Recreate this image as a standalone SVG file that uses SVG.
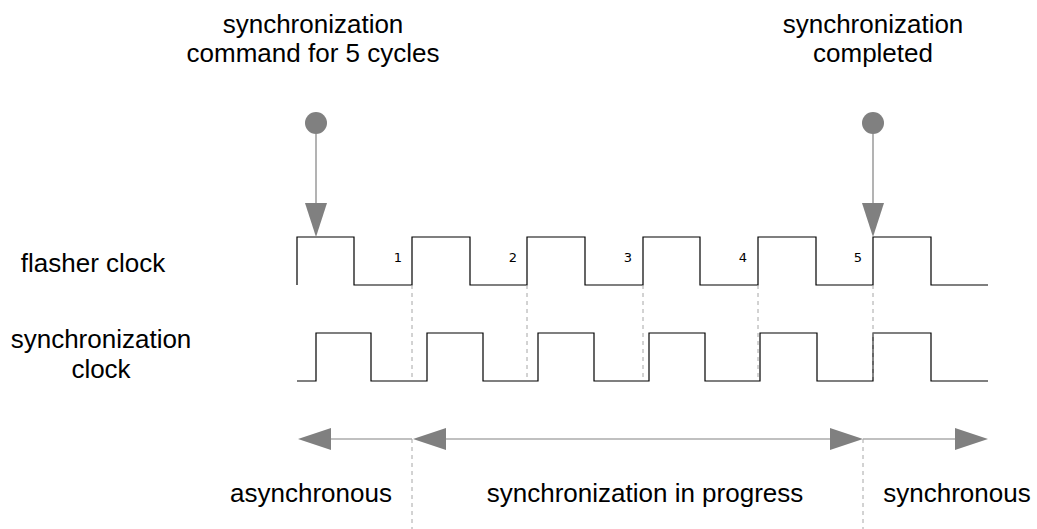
<svg xmlns="http://www.w3.org/2000/svg" width="1037" height="529" viewBox="0 0 1037 529">
<style>
.t{font-family:"Liberation Sans",Arial,sans-serif;font-size:26px;fill:#000;text-anchor:middle}
.n{font-family:"DejaVu Sans",sans-serif;font-size:13px;fill:#000;text-anchor:middle}
.wave{fill:none;stroke:#000;stroke-width:1.2}
.dash{fill:none;stroke:#a6a6a6;stroke-width:1;stroke-dasharray:4 4}
.ptr{fill:none;stroke:#808080;stroke-width:1.2}
.span{fill:none;stroke:#ababab;stroke-width:1.5}
.head{fill:#808080;stroke:none}
</style>
<rect width="1037" height="529" fill="#fff"/>
<g id="label-command">
<text class="t" x="313" y="33">synchronization</text>
<text class="t" x="313" y="62">command for 5 cycles</text>
</g>
<g id="label-completed">
<text class="t" x="873" y="33">synchronization</text>
<text class="t" x="873" y="62">completed</text>
</g>
<g id="label-flasher"><text class="t" x="93" y="272">flasher clock</text></g>
<g id="label-sync-clock">
<text class="t" x="101" y="348">synchronization</text>
<text class="t" x="101" y="378">clock</text>
</g>
<g id="flasher-clock">
<path class="wave" d="M297,285 V237 H354 V285 H412 V237 H470 V285 H527 V237 H585 V285 H643 V237 H700 V285 H758 V237 H816 V285 H873 V237 H931 V285 H988"/>
<text class="n" x="398" y="262">1</text>
<text class="n" x="513" y="262">2</text>
<text class="n" x="628" y="262">3</text>
<text class="n" x="743" y="262">4</text>
<text class="n" x="858" y="262">5</text>
</g>
<g id="sync-clock">
<path class="wave" d="M297,381 H316 V333 H371 V381 H427 V333 H483 V381 H538 V333 H594 V381 H649 V333 H705 V381 H760 V333 H817 V381 H873 V333 H931 V381 H988"/>
</g>
<g id="marker-command">
<circle class="head" cx="316" cy="123" r="11"/>
</g>
<g id="marker-completed">
<circle class="head" cx="873" cy="123" r="11"/>
</g>
<g id="phase-labels">
<text class="t" x="311" y="502">asynchronous</text>
<text class="t" x="645" y="502">synchronization in progress</text>
<text class="t" x="957" y="502">synchronous</text>
</g>
<g id="connectors">
<path class="dash" d="M412,285 V381 M527,285 V381 M643,285 V381 M758,285 V381 M873,285 V381"/>
<path class="dash" d="M412,439 V529 M863,439 V529"/>
<path class="ptr" d="M316,134 V204"/>
<polygon class="head" points="305,203 327,203 316,237"/>
<path class="ptr" d="M873,134 V204"/>
<polygon class="head" points="862,203 884,203 873,237"/>
<path class="span" d="M412,439 H330"/>
<polygon class="head" points="298,439 331,428 331,450"/>
<path class="span" d="M446,439 H830"/>
<polygon class="head" points="413,439 446,428 446,450"/>
<polygon class="head" points="863,439 830,428 830,450"/>
<path class="span" d="M863,439 H956"/>
<polygon class="head" points="988,439 955,428 955,450"/>
</g>
</svg>
